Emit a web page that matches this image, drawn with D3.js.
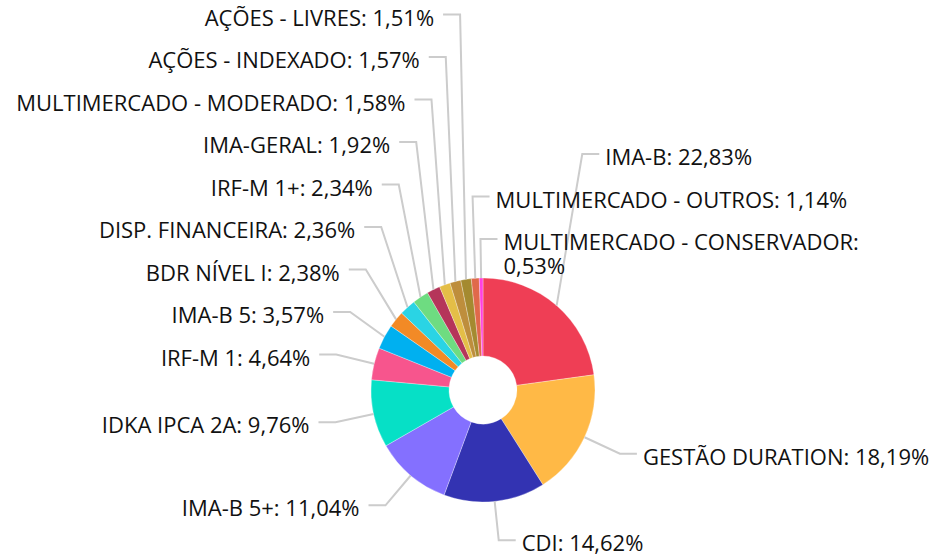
<!DOCTYPE html>
<html>
<head>
<meta charset="utf-8">
<script src="https://cdn.jsdelivr.net/npm/d3@7"></script>
<style>
  body { margin: 0; background: #fff; }
  svg { display: block; font-family: "Open Sans", sans-serif; }
</style>
</head>
<body>
<svg width="934" height="559"></svg>
<script>
var categories = ["IMA-B", "GESTÃO DURATION", "CDI", "IMA-B 5+", "IDKA IPCA 2A", "IRF-M 1",
                  "IMA-B 5", "BDR NÍVEL I", "DISP. FINANCEIRA", "IRF-M 1+", "IMA-GERAL",
                  "MULTIMERCADO - MODERADO", "AÇÕES - INDEXADO", "AÇÕES - LIVRES",
                  "MULTIMERCADO - OUTROS", "MULTIMERCADO - CONSERVADOR"];
var values = [22.83, 18.19, 14.62, 11.04, 9.76, 4.64, 3.57, 2.38, 2.36, 2.34, 1.92, 1.58, 1.57, 1.51, 1.14, 0.53];
var colors = ["#ef3e55", "#ffb946", "#3333b2", "#8470ff", "#06e0c6", "#f7558d", "#00b0f0", "#f28a26",
              "#2ad4e4", "#6edc81", "#b5355a", "#e4be47", "#be8e3c", "#a48a30", "#e0694b", "#ff40e0"];

var svg = d3.select("svg"),
    cx = 483, cy = 390,
    radius = 112,
    inner = 34,
    labelRadius = radius + 39,
    half = 21.25,       // half height of a label box
    lineHeight = 24

var data = categories.map(function(c, i) { return { name: c, value: values[i], color: colors[i] }; });

var pie = d3.pie().sort(null).value(function(d) { return d.value; });
var arc = d3.arc().innerRadius(inner).outerRadius(radius);
var arcs = pie(data);

var g = svg.append("g").attr("transform", "translate(" + cx + "," + cy + ")");

g.selectAll(".slice")
 .data(arcs)
 .enter().append("path")
 .attr("class", "slice")
 .attr("d", arc)
 .attr("fill", function(d) { return d.data.color; })
 .attr("stroke", "#fff")
 .attr("stroke-opacity", 0.5)
 .attr("stroke-width", 0.6);

var fmt = function(v) { return d3.format(".2f")(v).replace(".", ","); };

// label layout: natural point on a bigger circle, then pushed up to avoid overlaps
arcs.forEach(function(d) {
    var a = (d.startAngle + d.endAngle) / 2;
    d.mid = a;
    d.ex = radius * Math.sin(a);
    d.ey = -radius * Math.cos(a);
    d.bx = labelRadius * Math.sin(a);
    d.by = -labelRadius * Math.cos(a);
    d.right = d.bx > -15;
    d.lines = d.data.name.length > 24 && d.right ? [d.data.name + ":", fmt(d.data.value) + "%"]
                                                  : [d.data.name + ": " + fmt(d.data.value) + "%"];
});

function place(list) {
    var placed = [];
    list.forEach(function(d) {
        var extra = (d.lines.length - 1) * lineHeight;
        var y = d.by, moved = true;
        while (moved) {
            moved = false;
            placed.forEach(function(p) {
                var top = y - half, bottom = y + half + extra;
                if (bottom > p.top && top < p.bottom) {
                    y = p.top - half - extra;
                    moved = true;
                }
            });
        }
        d.by = y;
        placed.push({ top: y - half, bottom: y + half + extra });
    });
}

place(arcs.filter(function(d) { return !d.right; }).sort(function(a, b) { return a.mid - b.mid; }));
place(arcs.filter(function(d) { return d.right; }).sort(function(a, b) { return b.mid - a.mid; }));

var lbl = g.selectAll(".label")
 .data(arcs)
 .enter().append("g")
 .attr("class", "label");

lbl.append("polyline")
 .attr("points", function(d) {
     var hx = d.bx + (d.right ? 17 : -17);
     return [[d.ex, d.ey], [d.bx, d.by], [hx, d.by]].map(function(p) { return p.join(","); }).join(" ");
 })
 .attr("fill", "none")
 .attr("stroke", "#cccccc")
 .attr("stroke-width", 2);

lbl.append("text")
 .attr("x", function(d) { return d.right ? d.bx + 23 : d.bx - 26; })
 .attr("y", function(d) { return d.by + 11; })
 .attr("text-anchor", function(d) { return d.right ? "start" : "end"; })
 .attr("font-size", "22px")
 .attr("fill", "#111")
 .selectAll("tspan")
 .data(function(d) { return d.lines.map(function(t) { return { t: t, x: d.right ? d.bx + 23 : d.bx - 26 }; }); })
 .enter().append("tspan")
 .attr("x", function(t) { return t.x; })
 .attr("dy", function(t, i) { return i ? lineHeight : 0; })
 .text(function(t) { return t.t; });
</script>
</body>
</html>
